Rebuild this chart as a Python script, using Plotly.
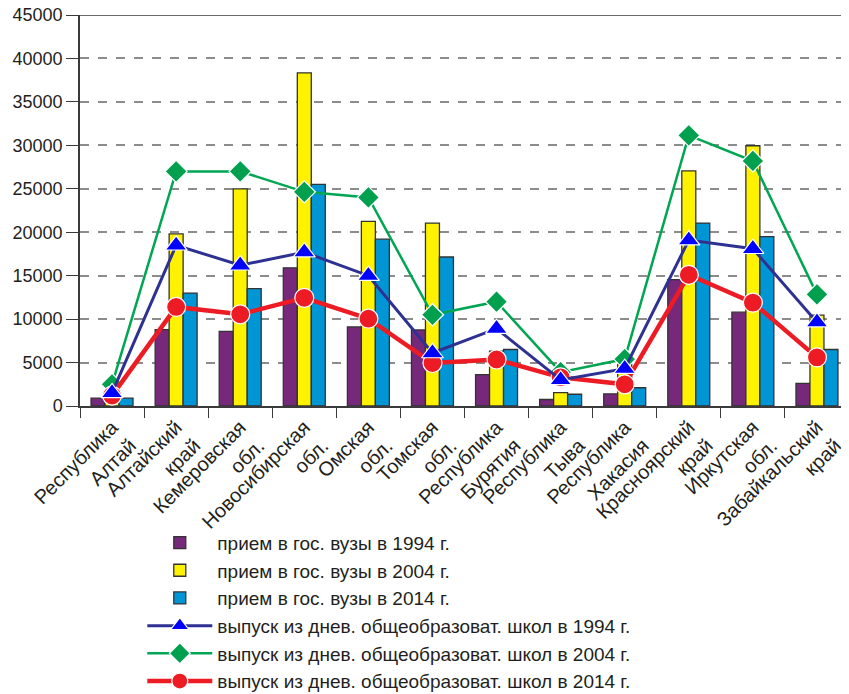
import plotly.graph_objects as go

categories = [
    "Республика<br>Алтай", "Алтайский<br>край", "Кемеровская<br>обл.",
    "Новосибирская<br>обл.", "Омская<br>обл.", "Томская<br>обл.",
    "Республика<br>Бурятия", "Республика<br>Тыва", "Республика<br>Хакасия",
    "Красноярский<br>край", "Иркутская<br>обл.", "Забайкальский<br>край",
]

admit_1994 = [900, 8800, 8600, 15900, 9100, 8750, 3600, 750, 1400, 14550, 10800, 2600]
admit_2004 = [600, 19800, 25000, 38350, 21250, 21050, 6300, 1550, 4800, 27050, 29950, 10450]
admit_2014 = [900, 13000, 13500, 25500, 19200, 17150, 6500, 1350, 2100, 21050, 19500, 6500]

grad_1994 = [1500, 18500, 16200, 17700, 15000, 6100, 8900, 3000, 4300, 19100, 18100, 9650]
grad_2004 = [2500, 27000, 27000, 24650, 24000, 10500, 12000, 3900, 5400, 31150, 28200, 12850]
grad_2014 = [1200, 11400, 10550, 12450, 10050, 4950, 5350, 3300, 2500, 15100, 11900, 5600]

y_ticks = [0, 5000, 10000, 15000, 20000, 25000, 30000, 35000, 40000, 45000]

FONT = "Liberation Sans, Arial, sans-serif"
TXT = "#231F20"

fig = go.Figure()

bar_specs = [
    ("прием в гос. вузы в 1994 г.", admit_1994, "#76297A", 1),
    ("прием в гос. вузы в 2004 г.", admit_2004, "#FFF200", 2),
    ("прием в гос. вузы в 2014 г.", admit_2014, "#0096D6", 3),
]
for name, vals, col, rank in bar_specs:
    fig.add_trace(go.Bar(
        x=categories, y=vals, name=name,
        marker=dict(color=col, line=dict(color="#333333", width=1.3)),
        legendgroup=f"g{rank}", legendrank=rank,
    ))

fig.add_trace(go.Scatter(
    x=categories, y=grad_2004, name="выпуск из днев. общеобразоват. школ в 2004 г.",
    mode="lines+markers",
    line=dict(color="#00A651", width=2.5),
    marker=dict(symbol="diamond", size=17, color="#00A04F", line=dict(color="white", width=1.2)),
    legendgroup="g5", legendrank=5,
))
fig.add_trace(go.Scatter(
    x=categories, y=grad_2014, name="выпуск из днев. общеобразоват. школ в 2014 г.",
    mode="lines+markers",
    line=dict(color="#ED1C24", width=4.5),
    marker=dict(symbol="circle", size=19, color="#ED1C24", line=dict(color="white", width=1.2)),
    legendgroup="g6", legendrank=6,
))
fig.add_trace(go.Scatter(
    x=categories, y=grad_1994, name="выпуск из днев. общеобразоват. школ в 1994 г.",
    mode="lines+markers",
    line=dict(color="#2E3192", width=3),
    marker=dict(symbol="triangle-up", size=19, color="#0000FF", line=dict(color="white", width=1.2)),
    legendgroup="g4", legendrank=4,
))

fig.add_shape(type="line", xref="paper", yref="y", x0=-0.016, x1=1, y0=45000, y1=45000,
              line=dict(color="#3A3A3A", width=1.5))

fig.update_layout(
    width=841, height=686,
    margin=dict(l=72, r=0, t=7, b=288, autoexpand=False),
    paper_bgcolor="white", plot_bgcolor="white",
    font=dict(family=FONT, size=18, color=TXT),
    barmode="group", bargap=0.345, bargroupgap=0,
    showlegend=True,
    legend=dict(
        x=0.081, y=-0.301, xanchor="left", yanchor="top",
        font=dict(family=FONT, size=19, color=TXT),
        itemwidth=65, tracegroupgap=0, traceorder="grouped",
        bgcolor="rgba(0,0,0,0)",
    ),
    xaxis=dict(
        range=[-0.5, len(categories) - 0.5],
        showline=True, linecolor="#3A3A3A", linewidth=1.5,
        ticks="outside", tickson="boundaries", ticklen=10, tickcolor="#3A3A3A",
        tickangle=-45, tickfont=dict(size=20), showgrid=False, automargin=False,
    ),
    yaxis=dict(
        range=[0, 45000], tickvals=y_ticks, ticktext=[str(v) for v in y_ticks],
        showline=True, linecolor="#3A3A3A", linewidth=1.5,
        ticks="outside", ticklen=12, tickcolor="#3A3A3A",
        showgrid=True, gridcolor="#8C8C8C", gridwidth=1.5, griddash="dash",
        zeroline=False, tickfont=dict(size=18), automargin=False,
        ticklabeloverflow="allow",
    ),
)

fig.write_html("out.html")
